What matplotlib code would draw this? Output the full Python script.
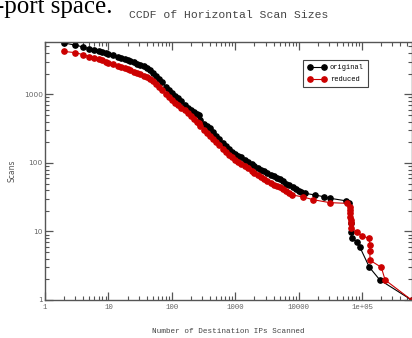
import numpy as np
import matplotlib
matplotlib.use('Agg')
import matplotlib.pyplot as plt
from matplotlib.ticker import LogLocator, FixedLocator, FixedFormatter, NullFormatter

# values
orig_x = [2, 3, 4, 5, 6, 7, 8, 9, 10, 12, 14, 16, 18, 20, 22, 25, 28, 32, 36, 40,
          45, 50, 56, 63, 71, 80, 90, 100, 112, 125, 140, 160, 180, 200, 225, 250,
          265, 280, 320, 360, 400, 450, 500, 560, 630, 710, 800, 900, 1000, 1120,
          1250, 1400, 1600, 1800, 2000, 2250, 2500, 2800, 3200, 3600, 4000, 4500,
          5000, 5600, 6300, 7100, 8000, 9000, 10000, 11000, 12500, 18300, 25000,
          31000, 55000, 63000, 67000, 67500, 68000, 83000, 92000, 130000, 190000,
          600000]
orig_y = [5600, 5230, 4900, 4600, 4450, 4300, 4150, 4000, 3900, 3700, 3550, 3420,
          3300, 3200, 3100, 2950, 2800, 2650, 2550, 2400, 2250, 2050, 1850, 1650,
          1500, 1300, 1150, 1050, 950, 870, 800, 700, 640, 590, 550, 520, 500, 420,
          370, 340, 320, 280, 250, 225, 195, 175, 160, 145, 135, 128, 120, 112, 103,
          96, 90, 85, 79, 75, 71, 67, 64, 61, 58, 54, 50, 47, 44, 41, 39, 37.5, 36,
          34, 32, 30.5, 28, 26.3, 13.4, 9.9, 7.9, 7.1, 5.9, 3.0, 1.96, 1]

red_x = [2, 3, 4, 5, 6, 7, 8, 9, 10, 12, 14, 16, 18, 20, 22, 25, 28, 32, 36, 40,
         45, 50, 56, 63, 71, 80, 90, 100, 112, 125, 140, 160, 180, 200, 225, 250,
         265, 280, 320, 360, 400, 450, 500, 560, 630, 710, 800, 900, 1000, 1120,
         1250, 1400, 1600, 1800, 2000, 2250, 2500, 2800, 3200, 3600, 4000, 4500,
         5000, 5600, 6300, 7100, 7900, 11500, 17000, 31000, 58000, 63500, 64000,
         64500, 65000, 65500, 66000, 67000, 83000, 100000, 130000, 131000, 132000,
         133000, 200000, 230000, 600000]
red_y = [4220, 4060, 3780, 3550, 3370, 3250, 3130, 3000, 2900, 2750, 2620, 2520,
         2420, 2330, 2250, 2150, 2050, 1950, 1870, 1780, 1680, 1560, 1420, 1280,
         1150, 1020, 910, 830, 760, 700, 640, 590, 540, 490, 440, 400, 380, 340,
         300, 270, 250, 225, 200, 180, 160, 145, 130, 120, 112, 104, 96, 90, 83,
         77, 72, 67, 63, 58, 54, 51, 48, 46, 44, 42, 39, 36, 34, 32, 29, 26.3, 25.7,
         23, 20.5, 18.5, 16.5, 14.7, 13.3, 11.3, 9.9, 8.6, 7.9, 6.4, 5.1, 3.8, 3.0,
         1.96, 1]

xtick_vals = [1, 10, 100, 1000, 10000, 100000]
xtick_labels = ['1', '10', '100', '1000', '10000', '1e+05']
ytick_vals = [1, 10, 100, 1000]
ytick_labels = ['1', '10', '100', '1000']

mono = 'Liberation Mono'
gray = '#555555'

fig = plt.figure(figsize=(4.12, 3.38), dpi=100)
ax = fig.add_axes([45 / 412, 38 / 338, 367 / 412, 258 / 338])

ax.plot(orig_x, orig_y, '-o', color='black', lw=0.8, ms=3.8, label='original')
ax.plot(red_x, red_y, '-o', color='#cc0000', lw=0.8, ms=3.8, label='reduced')

ax.set_xscale('log')
ax.set_yscale('log')
ax.set_xlim(1, 6.1e5)
ax.set_ylim(1, 5800)

ax.xaxis.set_major_locator(FixedLocator(xtick_vals))
ax.xaxis.set_major_formatter(FixedFormatter(xtick_labels))
ax.yaxis.set_major_locator(FixedLocator(ytick_vals))
ax.yaxis.set_major_formatter(FixedFormatter(ytick_labels))
ax.xaxis.set_minor_locator(LogLocator(base=10, subs=np.arange(2, 10), numticks=20))
ax.yaxis.set_minor_locator(LogLocator(base=10, subs=np.arange(2, 10), numticks=20))
ax.xaxis.set_minor_formatter(NullFormatter())
ax.yaxis.set_minor_formatter(NullFormatter())

ax.tick_params(which='both', direction='in', top=True, right=True, color=gray,
               labelcolor='#666666')
ax.tick_params(which='major', length=6, width=0.9, pad=3)
ax.tick_params(which='minor', length=3, width=0.8)
for lab in ax.get_xticklabels():
    lab.set_fontfamily(mono)
    lab.set_fontsize(5.3)
for lab in ax.get_yticklabels():
    lab.set_fontsize(5.3)
ax.tick_params(axis='y', pad=1.5)

for sp in ax.spines.values():
    sp.set_color(gray)
    sp.set_linewidth(1.0)

ax.set_title('CCDF of Horizontal Scan Sizes', fontfamily=mono, fontsize=8.2,
             color='#444444', pad=17)
ax.set_xlabel('Number of Destination IPs Scanned', fontfamily=mono, fontsize=5.5,
              color='#444444', labelpad=12)
ax.set_ylabel('Scans', fontsize=5.5, color='#555555', labelpad=5)

leg = ax.legend(loc='upper right', bbox_to_anchor=(0.88, 0.93), borderaxespad=0,
                numpoints=2, fancybox=False, framealpha=1, handlelength=2.6,
                handletextpad=0.6, borderpad=0.6, labelspacing=0.7,
                prop={'family': mono, 'size': 5})
leg.get_frame().set_edgecolor('#444444')
leg.get_frame().set_linewidth(0.8)

fig.text(-0.01, 1 - 13.5 / 338, '-port space.', fontfamily='Liberation Serif',
         fontsize=18, va='baseline', ha='left', color='black')

fig.savefig('out.png', dpi=100)
